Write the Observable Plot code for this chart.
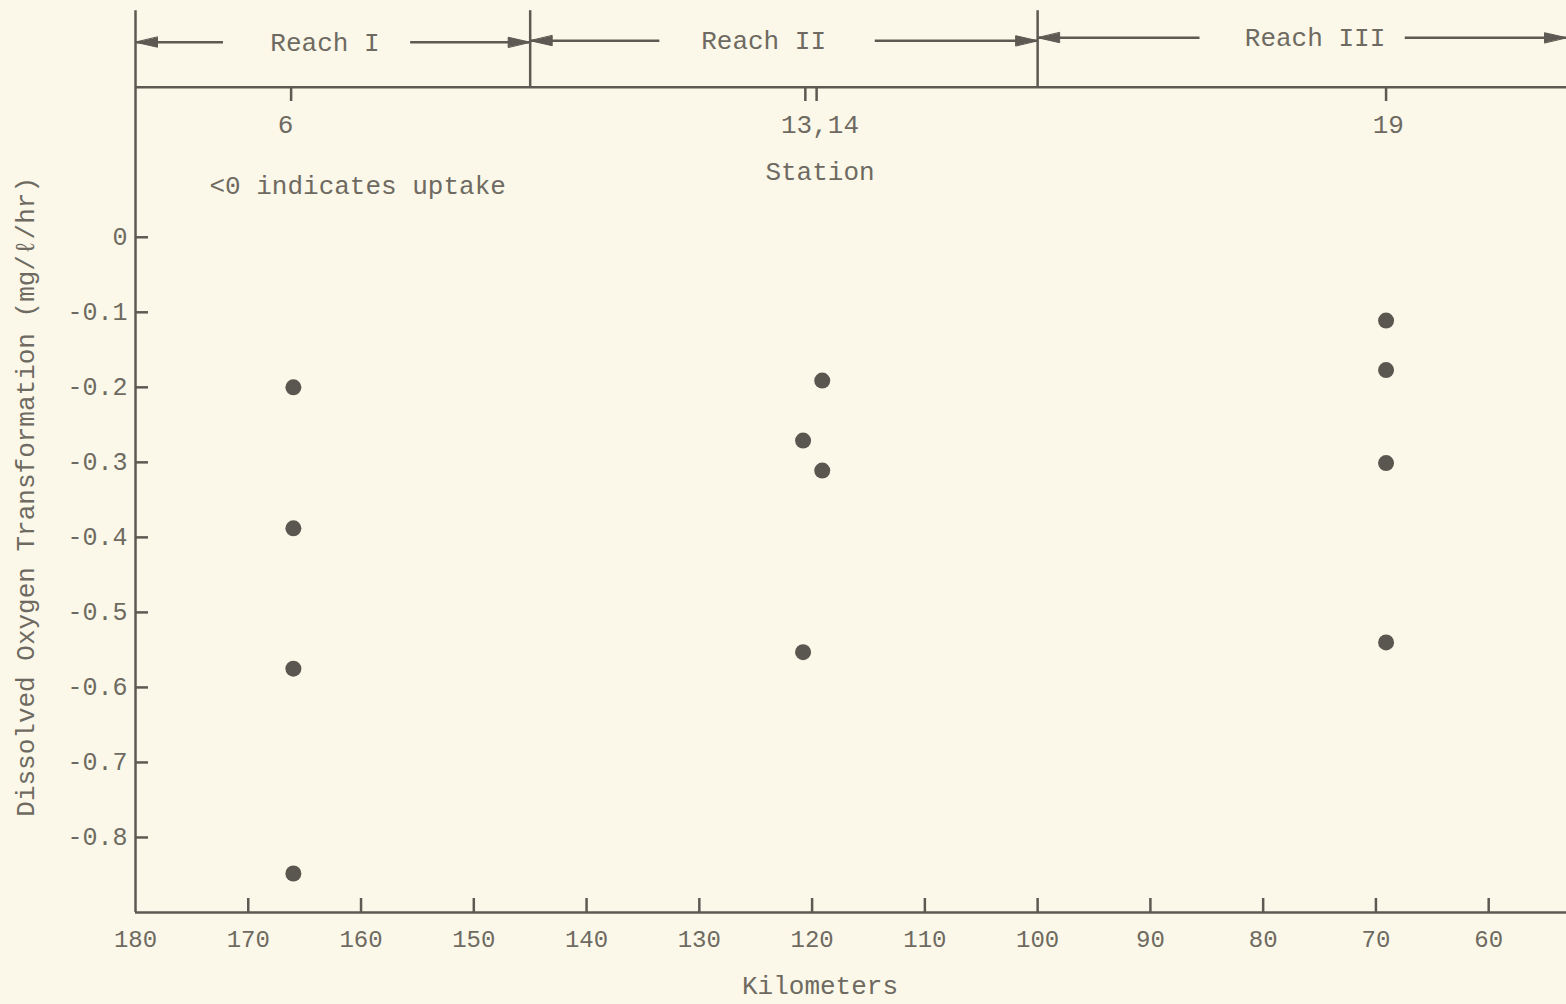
<!DOCTYPE html>
<html>
<head>
<meta charset="utf-8">
<script src="https://cdn.jsdelivr.net/npm/d3@7"></script>
<script src="https://cdn.jsdelivr.net/npm/@observablehq/plot@0.6"></script>
<style>
  html, body { margin: 0; padding: 0; background: #fbf8e9; }
  #chart { width: 1566px; height: 1004px; }
</style>
</head>
<body>
<div id="chart"></div>
<script>
// ---- data ----
const stationNames = ["6", "6", "6", "6", "13", "13", "14", "14", "19", "19", "19", "19"];
const kilometers   = [166.0, 166.0, 166.0, 166.0, 120.8, 120.8, 119.1, 119.1, 69.1, 69.1, 69.1, 69.1];
const doTransform  = [-0.200, -0.388, -0.575, -0.848, -0.271, -0.553, -0.191, -0.311, -0.111, -0.177, -0.301, -0.540];

const xTicks = [180, 170, 160, 150, 140, 130, 120, 110, 100, 90, 80, 70, 60];
const yTicks = [0, -0.1, -0.2, -0.3, -0.4, -0.5, -0.6, -0.7, -0.8];

const stationTickKm = [166.2, 120.6, 119.6, 69.1];
const stationLabelText = ["6", "13,14", "19"];
const stationLabelKm = [166.7, 119.3, 68.9];

const reachNames = ["Reach I", "Reach II", "Reach III"];
const reachCenterKm = [163.2, 124.3, 75.4];
const reachBounds = [180, 145, 100, 53.1];
// arrow shafts: [start of left arrow shaft, start of right arrow shaft] (km)
const reachArrowStarts = [[172.2, 155.6], [133.5, 114.4], [85.6, 67.4]];
const reachY = [0.260, 0.262, 0.266];

// ---- layout constants ----
const W = 1566, H = 1004;
const xMin = 53.1, xMax = 180;
const yBottom = -0.9, yTop = 0.3156, frameTop = 0.2, boxTop = 0.302;
const ink = "#5d5a53", textInk = "#6e6a61";

const points = stationNames.map((s, i) => ({station: s, km: kilometers[i], value: doTransform[i]}));

const arrowsData = [];
reachNames.forEach((name, i) => {
  arrowsData.push({from: reachArrowStarts[i][0], to: reachBounds[i], y: reachY[i], dir: -90});
  arrowsData.push({from: reachArrowStarts[i][1], to: reachBounds[i + 1], y: reachY[i], dir: 90});
});

// filled, narrow arrowhead drawn with its tip at the anchor
const headShape = {
  draw(context, l) {
    const w = 5;
    context.moveTo(0, -l);
    context.lineTo(-w, 0);
    context.lineTo(w, 0);
    context.closePath();
  }
};

const chart = Plot.plot({
  width: W,
  height: H,
  marginLeft: 135,
  marginRight: 0,
  marginTop: 0,
  marginBottom: 92,
  style: {background: "#fbf8e9", fontFamily: "'Liberation Mono', 'DejaVu Sans Mono', monospace", fontSize: "26px", color: textInk},
  x: {domain: [xMax, xMin], axis: null},
  y: {domain: [yBottom, yTop], axis: null},
  marks: [
    // frame lines
    Plot.ruleY([yBottom], {x1: xMax, x2: xMin, stroke: ink, strokeWidth: 2.5}),
    Plot.ruleY([frameTop], {x1: xMax, x2: xMin, stroke: ink, strokeWidth: 2.5}),
    Plot.ruleX([xMax], {y1: yBottom, y2: boxTop, stroke: ink, strokeWidth: 2.5}),
    Plot.ruleX(reachBounds.slice(1, 3), {y1: frameTop, y2: boxTop, stroke: ink, strokeWidth: 2.5}),
    // reach arrows
    Plot.ruleY(arrowsData, {y: "y", x1: "from", x2: "to", stroke: ink, strokeWidth: 2.5}),
    Plot.vector(arrowsData, {x: "to", y: "y", rotate: "dir", length: 22, anchor: "end", shape: headShape, fill: ink, stroke: ink, strokeWidth: 1}),
    Plot.text(reachNames, {x: (d, i) => reachCenterKm[i], y: (d, i) => reachY[i], text: d => d, fill: textInk, fontSize: 26}),
    // station ticks on top line
    Plot.ruleX(stationTickKm, {y1: frameTop, y2: frameTop - 0.019, stroke: ink, strokeWidth: 2.5}),
    Plot.text(stationLabelText, {x: (d, i) => stationLabelKm[i], y: 0.150, text: d => d, fill: textInk, fontSize: 26}),
    Plot.text(["Station"], {x: 119.3, y: 0.088, text: d => d, fill: textInk, fontSize: 26}),
    Plot.text(["<0 indicates uptake"], {x: 160.3, y: 0.069, text: d => d, fill: textInk, fontSize: 26}),
    // y ticks (inward) and labels
    Plot.ruleY(yTicks, {x1: xMax, x2: xMax - 13 / 11.28, stroke: ink, strokeWidth: 2.5}),
    Plot.axisY({ticks: yTicks, tickSize: 0, tickPadding: 8, tickFormat: d => d === 0 ? "0" : "-" + Math.abs(d).toFixed(1), fontSize: 25, fill: textInk}),
    // x ticks (inward) and labels
    Plot.ruleX(xTicks.slice(1), {y1: yBottom, y2: yBottom + 14 / 750, stroke: ink, strokeWidth: 2.5}),
    Plot.axisX({ticks: xTicks, tickSize: 0, tickPadding: 17, tickFormat: d => String(d), fontSize: 24, fill: textInk, fontFamily: "'Liberation Sans Narrow', 'Liberation Mono', monospace"}),
    // axis titles
    Plot.text(["Kilometers"], {x: 119.3, y: -0.997, text: d => d, fill: textInk, fontSize: 26}),
    Plot.text(["Dissolved Oxygen Transformation (mg/\u2113/hr)"], {x: 189.75, y: -0.346, text: d => d, rotate: -90, fill: textInk, fontSize: 26}),
    // data
    Plot.dot(points, {x: "km", y: "value", r: 8, fill: "#5a5751", stroke: "none"})
  ]
});
document.getElementById("chart").appendChild(chart);
</script>
</body>
</html>
